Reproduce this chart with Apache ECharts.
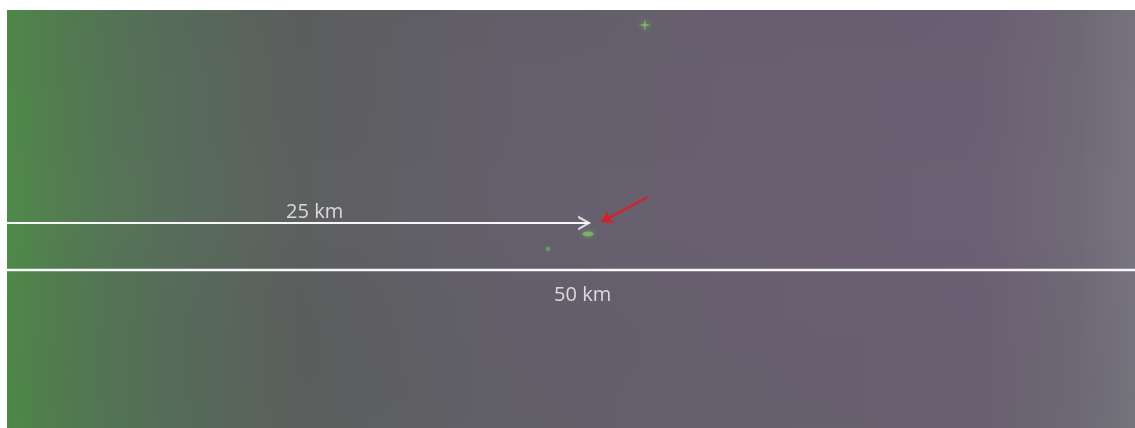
<!DOCTYPE html>
<html>
<head>
<meta charset="utf-8">
<script src="https://cdn.jsdelivr.net/npm/echarts@6/dist/echarts.min.js"></script>
<style>
html,body{margin:0;padding:0;background:#ffffff;}
#chart{width:1135px;height:428px;}
</style>
</head>
<body>
<div id="chart"></div>
<script>
// Distances (km) of the two reference lines and their labels
const distancesKm = [25, 50];
const distanceLabels = ['25 km', '50 km'];
// Vertical position of each reference line in image rows (0 = top of photo)
const lineRows = [213, 260];
// Label anchor positions [km, row]
const labelPoints = [[13.2, 202], [24.7, 285]];
// Green light sources seen in the image [km, row]
const brightSpot = [[27.37, 15]];
const targetSpot = [[24.93, 224]];
const faintSpot = [[23.21, 239]];
// Red pointer arrow: [start, end] in [km, row]
const pointerStart = [27.5, 187];
const pointerEnd = [25.5, 212];
// Visible horizontal extent of the photo in km
const viewMaxKm = 48.4;
const viewRows = 418;

const chart = echarts.init(document.getElementById('chart'), null, {renderer: 'canvas'});

const option = {
  backgroundColor: '#ffffff',
  animation: false,
  graphic: [{
    type: 'rect',
    z: -10,
    shape: {x: 7, y: 10, width: 1128, height: 418},
    style: {
      fill: new echarts.graphic.LinearGradient(0, 0, 1, 0, [
        {offset: 0.00, color: '#4f8a48'},
        {offset: 0.05, color: '#537c52'},
        {offset: 0.13, color: '#576f5a'},
        {offset: 0.26, color: '#5d5f5f'},
        {offset: 0.45, color: '#65606c'},
        {offset: 0.65, color: '#696071'},
        {offset: 0.86, color: '#6c6074'},
        {offset: 0.95, color: '#706a78'},
        {offset: 1.00, color: '#787580'}
      ])
    }
  }, {
    type: 'rect',
    z: -9,
    shape: {x: 7, y: 10, width: 1128, height: 418},
    style: {
      fill: new echarts.graphic.LinearGradient(0, 0, 0, 1, [
        {offset: 0, color: 'rgba(0,0,0,0.02)'},
        {offset: 0.5, color: 'rgba(0,0,0,0)'},
        {offset: 1, color: 'rgba(40,90,40,0.05)'}
      ])
    }
  }],
  grid: {left: 7, right: 0, top: 10, bottom: 0, containLabel: false},
  xAxis: {
    type: 'value', min: 0, max: viewMaxKm,
    show: false
  },
  yAxis: {
    type: 'value', min: 0, max: viewRows, inverse: true,
    show: false
  },
  series: [
    {
      type: 'line',
      name: distanceLabels[0],
      data: [[0, lineRows[0]], [distancesKm[0], lineRows[0]]],
      symbol: 'none',
      lineStyle: {color: '#f6f6f8', width: 2},
      silent: true
    },
    {
      type: 'scatter',
      data: [[distancesKm[0], lineRows[0]]],
      symbol: 'path://M0,0 L12,10 L0,20 L0,16.5 L8,10 L0,3.5 Z',
      symbolSize: [13, 15],
      symbolOffset: [-5, 0],
      itemStyle: {color: '#f6f6f8'},
      silent: true
    },
    {
      type: 'line',
      name: distanceLabels[1],
      data: [[0, lineRows[1]], [distancesKm[1], lineRows[1]]],
      symbol: 'none',
      clip: true,
      lineStyle: {color: '#f8f8fa', width: 2.5},
      silent: true
    },
    {
      type: 'scatter',
      data: labelPoints.map((p, i) => ({value: p, name: distanceLabels[i]})),
      symbolSize: 0,
      label: {
        show: true,
        position: 'inside',
        formatter: p => p.name,
        color: '#f8f8fa',
        fontSize: 20,
        fontFamily: 'Open Sans, sans-serif'
      },
      silent: true
    },
    {
      type: 'scatter',
      data: brightSpot,
      symbol: 'path://M10,0 L11.5,8.5 L20,10 L11.5,11.5 L10,20 L8.5,11.5 L0,10 L8.5,8.5 Z',
      symbolSize: 12,
      itemStyle: {color: '#7fd06a', shadowBlur: 6, shadowColor: '#6fc85a'},
      silent: true
    },
    {
      type: 'scatter',
      data: targetSpot,
      symbol: 'circle',
      symbolSize: [11, 5],
      itemStyle: {color: '#78b864', opacity: 0.9, shadowBlur: 4, shadowColor: '#6aa858'},
      silent: true
    },
    {
      type: 'scatter',
      data: faintSpot,
      symbol: 'circle',
      symbolSize: 4,
      itemStyle: {color: '#72a866', opacity: 0.8, shadowBlur: 3, shadowColor: '#6a9a60'},
      silent: true
    },
    {
      type: 'lines',
      coordinateSystem: 'cartesian2d',
      data: [{coords: [pointerStart, pointerEnd]}],
      symbol: ['none', 'arrow'],
      symbolSize: 11,
      lineStyle: {color: '#d8202a', width: 2.5, opacity: 1, curveness: 0},
      silent: true
    }
  ]
};
chart.setOption(option);
</script>
</body>
</html>
